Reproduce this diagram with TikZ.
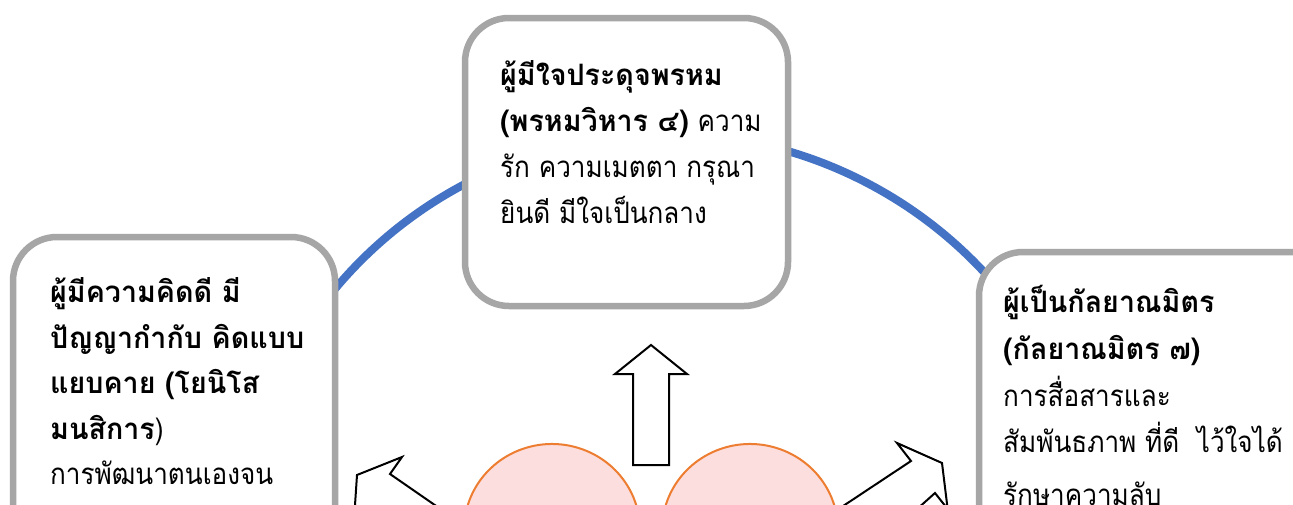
\documentclass[tikz,border=0pt]{standalone}
\usepackage{fontspec}
\newfontfamily\thaifont[Script=Thai,FakeStretch=0.885]{Loma}
\newfontfamily\thaibf[Script=Thai,FakeStretch=0.97]{Loma}
\definecolor{boxgray}{HTML}{A6A6A6}
\definecolor{arcblue}{HTML}{4472C4}
\definecolor{heartline}{HTML}{ED7D31}
\definecolor{heartfill}{HTML}{FDDEDE}
\newcommand\B[1]{{\thaibf\bfseries #1}}
\tikzset{
  roundbox/.style={draw=boxgray, line width=6.5pt, fill=white, rounded corners=44pt},
  txt/.style={inner sep=0pt, anchor=base west, font=\thaifont\fontsize{29.5}{32}\selectfont},
  blockarrow/.style={draw=black, line width=2pt, fill=white, line join=miter},
  heartshape/.style={draw=heartline, line width=2pt, fill=heartfill},
  cyclearc/.style={draw=arcblue, line width=8pt}
}
\newcommand\tline[4]{\node[txt] (#1) at (#2,#3) {#4};}
\begin{document}
\begin{tikzpicture}[x=1pt,y=-1pt]
\useasboundingbox (0,0) rectangle (1293,504);
\clip (0,0) rectangle (1293,504);
\fill[white] (0,0) rectangle (1293,504);
% blue cycle arc
\draw[cyclearc] (667,567) ++(210:433) arc[start angle=210, end angle=330, radius=433];
% boxes
\draw[roundbox] (465,18) rectangle (788,306);
\draw[roundbox] (13,237) rectangle (335,800);
\draw[roundbox] (979,252) rectangle (1400,800);
% top box text
\tline{a1}{500}{85}{\B{ผู้มีใจประดุจพรหม}}
\tline{a2}{500}{131}{\B{(พรหมวิหาร ๔)} ความ}
\tline{a3}{500}{177}{รัก ความเมตตา กรุณา}
\tline{a4}{500}{223}{ยินดี มีใจเป็นกลาง}
% left box text
\tline{b1}{50}{302}{\B{ผู้มีความคิดดี มี}}
\tline{b2}{50}{348}{\B{ปัญญากำกับ คิดแบบ}}
\tline{b3}{50}{393}{\B{แยบคาย (โยนิโส}}
\tline{b4}{50}{439}{\B{มนสิการ})}
\tline{b5}{50}{484}{การพัฒนาตนเองจน}
% right box text
\tline{c1}{1003}{312}{\B{ผู้เป็นกัลยาณมิตร}}
\tline{c2}{1003}{359}{\B{(กัลยาณมิตร ๗)}}
\tline{c3}{1003}{406}{การสื่อสารและ}
\tline{c4}{1003}{452}{สัมพันธภาพ ที่ดี\ \ ไว้ใจได้}
\tline{c5}{1003}{505}{รักษาความลับ}
% up arrow
\draw[blockarrow] (633,465) -- (633,374) -- (615,374) -- (651,345) -- (687,374) -- (669,374) -- (669,465) -- cycle;
% left arrow
\draw[blockarrow] (354,520) -- (357,475) -- (402,457) -- (390,474) -- (455,519);
% right arrow
\draw[blockarrow] (822,520) -- (911,461) -- (897,443) -- (942,463) -- (949,520);
\draw[blockarrow, fill=none] (916,510) -- (935,493) -- (950,512);
% heart
\path[heartshape] (651,575) -- (634.7,559.4)
  arc[start angle=20, end angle=-200, x radius=88, y radius=86]
  .. controls (480,640) and (600,720) .. (651,800)
  .. controls (700,720) and (820,640) .. (832.7,559.4)
  arc[start angle=20, end angle=-200, x radius=88, y radius=86]
  -- cycle;
\end{tikzpicture}
\end{document}
